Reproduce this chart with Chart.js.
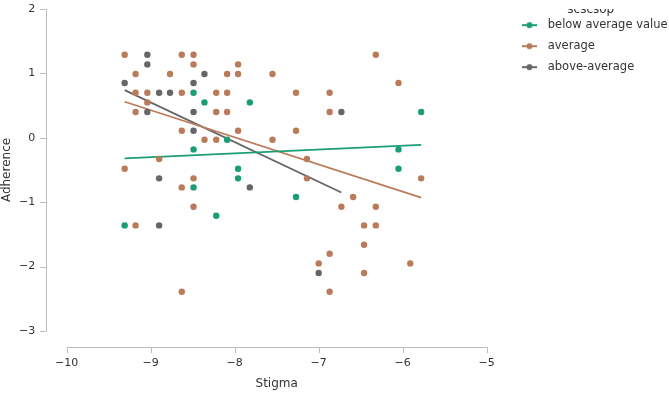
<!DOCTYPE html>
<html>
<head>
<meta charset="utf-8">
<script src="https://cdn.jsdelivr.net/npm/chart.js@4.4.1/dist/chart.umd.min.js"></script>
<style>
  html, body { margin: 0; padding: 0; background: #fff; }
  #wrap { width: 669px; height: 393px; }
</style>
</head>
<body>
<div id="wrap"><canvas id="chart"></canvas></div>
<script>
// groups of scscsop
const groupNames = ['below average value', 'average', 'above-average'];
const groupColors = ['#1b9e77', '#b97b5a', '#666666'];

// below average value
const stigmaBelow = [-8.49, -8.36, -8.09, -8.49, -7.96, -7.96, -8.49, -8.22, -9.31, -7.82, -7.27, -5.78, -6.05, -6.05];
const adherenceBelow = [0.70, 0.55, -0.03, -0.18, -0.48, -0.63, -0.77, -1.21, -1.36, 0.55, -0.92, 0.40, -0.18, -0.48];

// average
const stigmaAverage = [-9.31, -8.63, -8.49, -8.49, -9.18, -8.77, -8.09, -7.96, -7.96, -9.18, -9.04, -8.63, -8.22, -8.09,
  -9.04, -9.18, -8.22, -8.09, -8.63, -7.96, -8.36, -8.22, -8.90, -7.55, -7.27, -6.87, -6.87, -7.27, -7.55, -7.14,
  -6.32, -6.05, -9.31, -8.49, -8.63, -8.49, -9.18, -8.63, -7.14, -6.59, -6.73, -6.46, -6.46, -6.87, -7.00, -6.46,
  -6.87, -5.78, -6.32, -6.32, -5.91];
const adherenceAverage = [1.29, 1.29, 1.29, 1.14, 0.99, 0.99, 0.99, 0.99, 1.14, 0.70, 0.70, 0.70, 0.70, 0.70,
  0.55, 0.40, 0.40, 0.40, 0.11, 0.11, -0.03, -0.03, -0.33, 0.99, 0.70, 0.70, 0.40, 0.11, -0.03, -0.33,
  1.29, 0.85, -0.48, -0.63, -0.77, -1.07, -1.36, -2.39, -0.63, -0.92, -1.07, -1.36, -1.66, -1.80, -1.95, -2.10,
  -2.39, -0.63, -1.07, -1.36, -1.95];

// above-average
const stigmaAbove = [-9.04, -9.04, -8.36, -9.31, -8.49, -8.90, -8.77, -9.04, -8.49, -8.49, -6.73, -8.90, -7.82, -8.90, -7.00];
const adherenceAbove = [1.29, 1.14, 0.99, 0.85, 0.85, 0.70, 0.70, 0.40, 0.40, 0.11, 0.40, -0.63, -0.77, -1.36, -2.10];

// fitted trend lines, adherence at the group's lowest and highest stigma
const trendStart = [-0.32, 0.56, 0.74];
const trendEnd = [-0.11, -0.93, -0.85];

const xTicks = [-10, -9, -8, -7, -6, -5];
const yTicks = [2, 1, 0, -1, -2, -3];

const groupX = [stigmaBelow, stigmaAverage, stigmaAbove];
const groupY = [adherenceBelow, adherenceAverage, adherenceAbove];

function legendIcon(color) {
  const c = document.createElement('canvas');
  c.width = 20; c.height = 8;
  const g = c.getContext('2d');
  g.strokeStyle = color; g.lineWidth = 2;
  g.beginPath(); g.moveTo(0, 4); g.lineTo(15, 4); g.stroke();
  g.fillStyle = color;
  g.beginPath(); g.arc(7.5, 4, 3, 0, Math.PI * 2); g.fill();
  return c;
}

const minus = v => String(v).replace('-', '\u2212');

const datasets = [];
groupNames.forEach((name, i) => {
  datasets.push({
    type: 'scatter',
    label: name,
    data: groupX[i].map((x, k) => ({ x: x, y: groupY[i][k] })),
    backgroundColor: groupColors[i],
    borderWidth: 0,
    pointRadius: 3.2,
    pointHoverRadius: 3.2
  });
});
groupNames.forEach((name, i) => {
  datasets.push({
    type: 'line',
    label: name + ' fit',
    data: [
      { x: Math.min(...groupX[i]), y: trendStart[i] },
      { x: Math.max(...groupX[i]), y: trendEnd[i] }
    ],
    borderColor: groupColors[i],
    borderWidth: 1.8,
    pointRadius: 0,
    fill: false
  });
});

// detached axis lines with outward ticks
const axisLines = {
  id: 'axisLines',
  afterDraw(chart) {
    const { ctx, chartArea, scales } = chart;
    const ax = Math.round(chartArea.left - 20.5), ay = Math.round(chartArea.bottom + 16);
    ctx.save();
    ctx.strokeStyle = '#bdbdbd';
    ctx.lineWidth = 1;
    ctx.beginPath();
    ctx.moveTo(ax + 0.5, scales.y.getPixelForValue(2));
    ctx.lineTo(ax + 0.5, scales.y.getPixelForValue(-3));
    yTicks.forEach(t => {
      const py = Math.round(scales.y.getPixelForValue(t)) + 0.5;
      ctx.moveTo(ax - 6, py); ctx.lineTo(ax + 0.5, py);
    });
    ctx.moveTo(scales.x.getPixelForValue(-10), ay + 0.5);
    ctx.lineTo(scales.x.getPixelForValue(-5), ay + 0.5);
    xTicks.forEach(t => {
      const px = Math.round(scales.x.getPixelForValue(t)) + 0.5;
      ctx.moveTo(px, ay); ctx.lineTo(px, ay + 6);
    });
    ctx.stroke();
    ctx.restore();
  }
};

Chart.defaults.font.family = '"DejaVu Sans", sans-serif';
Chart.defaults.color = '#333';

const hiddenGrid = len => ({ display: true, drawOnChartArea: false, drawTicks: true, tickLength: len, color: 'rgba(0,0,0,0)' });

new Chart(document.getElementById('chart'), {
  type: 'scatter',
  data: { datasets: datasets },
  options: {
    responsive: true,
    maintainAspectRatio: false,
    animation: false,
    layout: { padding: { top: 9, right: 0, bottom: 0, left: 0 } },
    scales: {
      x: {
        type: 'linear',
        min: -10, max: -5,
        grid: hiddenGrid(26),
        border: { display: false },
        afterBuildTicks: s => { s.ticks = xTicks.map(v => ({ value: v })); },
        afterFit: s => { s.height = 62; },
        ticks: { padding: 0, font: { size: 11 }, maxRotation: 0, callback: v => minus(v) },
        title: { display: true, text: 'Stigma', font: { size: 12 }, padding: { top: 0, bottom: 2 } }
      },
      y: {
        type: 'linear',
        min: -3, max: 2,
        grid: hiddenGrid(31.5),
        border: { display: false },
        afterBuildTicks: s => { s.ticks = yTicks.map(v => ({ value: v })); },
        afterFit: s => { s.width = 66.7; },
        ticks: { padding: 0, font: { size: 11 }, callback: v => minus(v) },
        title: { display: true, text: 'Adherence', font: { size: 12 }, padding: { top: 0, bottom: 0 } }
      },
      // empty spacer between the plot and the legend
      spacer: {
        type: 'linear',
        position: 'right',
        min: 0, max: 1,
        grid: { display: false },
        border: { display: false },
        ticks: { display: false },
        afterFit: s => { s.width = 25.8; }
      }
    },
    plugins: {
      tooltip: { enabled: false },
      legend: {
        position: 'right',
        align: 'start',
        maxWidth: 156.5,
        title: { display: true, text: 'scscsop', color: '#333', font: { size: 12 }, padding: { top: -5.5, bottom: -8 } },
        labels: {
          usePointStyle: true,
          pointStyleWidth: 20,
          padding: 9.5,
          font: { size: 11.5 },
          generateLabels: chart => groupNames.map((name, i) => ({
            text: name,
            pointStyle: legendIcon(groupColors[i]),
            fillStyle: groupColors[i],
            strokeStyle: groupColors[i],
            lineWidth: 0,
            hidden: false,
            datasetIndex: i
          }))
        }
      }
    }
  },
  plugins: [axisLines]
});
</script>
</body>
</html>
